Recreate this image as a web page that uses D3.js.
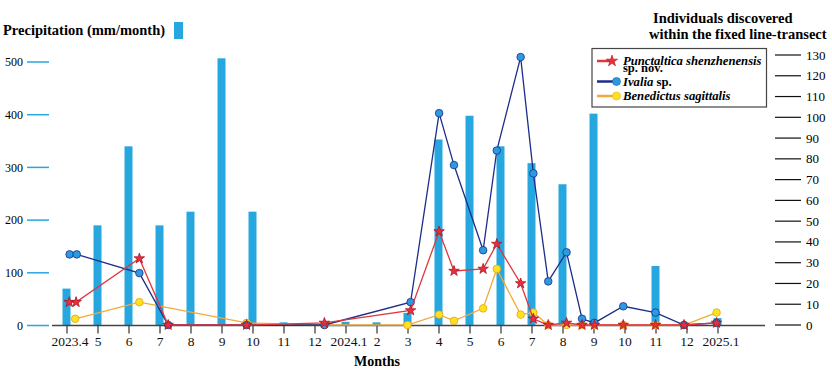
<!DOCTYPE html>
<html>
<head>
<meta charset="utf-8">
<script src="https://cdn.jsdelivr.net/npm/d3@7"></script>
<style>
  body { margin: 0; background: #fff; }
  svg text { font-family: "Liberation Serif", "Times New Roman", serif; }
</style>
</head>
<body>
<div id="chart"></div>
<script>
// month labels along the x axis (index 0 = 2023.4)
var monthLabels = ["2023.4","5","6","7","8","9","10","11","12","2024.1","2","3","4","5","6","7","8","9","10","11","12","2025.1"];
// precipitation per month, mm
var precipitation = [70,190,340,190,216,507,216,6,3,7,6,24,353,398,340,308,268,402,0,113,0,14];

// survey dates as month offsets from 2023.4, counts per survey
var punctalticaMonth = [0.09,0.31,2.35,3.28,5.81,8.32,11.1,12.02,12.5,13.44,13.88,14.65,15.06,15.54,16.13,16.63,17.03,17.96,19.0,19.92,20.97];
var punctaltica      = [11,11,32,0,0,1,7,45,26,27,39,20,3,0,1,0,0,0,0,0,1];
var ivaliaMonth      = [0.1,0.33,2.35,3.28,5.81,8.32,11.1,12.02,12.5,13.44,13.88,14.65,15.06,15.54,16.13,16.63,17.03,17.96,19.0,19.92,20.97];
var ivalia           = [34,34,25,0,0,0,11,102,77,36,84,129,73,21,35,3,1,9,6,0,1];
var benedictusMonth  = [0.28,2.35,5.81,8.32,11.0,12.02,12.5,13.44,13.88,14.65,15.06,15.54,16.13,16.63,17.03,17.96,19.0,19.92,20.97];
var benedictus       = [3,11,1,0,0,5,2,8,27,5,6,0,0,0,0,0,0,0,6];

var leftTicks = [0,100,200,300,400,500];
var rightTicks = d3.range(0, 131, 10);

var width = 832, height = 372;
var barColor = "#27a7df";

var svg = d3.select("#chart")
  .append("svg")
  .attr("width", width)
  .attr("height", height);

var x = d3.scaleLinear().domain([0, 21]).range([66.5, 717.5]);
var yLeft = d3.scaleLinear().domain([0, 500]).range([325.5, 62]);
var yRight = d3.scaleLinear().domain([0, 130]).range([325, 55]);

// precipitation bars
svg.selectAll("rect.bar")
  .data(precipitation)
  .enter()
  .append("rect")
  .attr("class", "bar")
  .attr("x", function(d, i) { return x(i) - 4; })
  .attr("y", function(d) { return yLeft(d); })
  .attr("width", 8)
  .attr("height", function(d) { return yLeft(0) - yLeft(d); })
  .style("fill", barColor);

// left axis: blue dashes with labels
var lAxis = svg.append("g");
lAxis.selectAll("line")
  .data(leftTicks)
  .enter()
  .append("line")
  .attr("x1", 27).attr("x2", 49)
  .attr("y1", function(d) { return yLeft(d); })
  .attr("y2", function(d) { return yLeft(d); })
  .style("stroke", barColor)
  .style("stroke-width", 1.5);
lAxis.selectAll("text")
  .data(leftTicks)
  .enter()
  .append("text")
  .attr("x", 23)
  .attr("y", function(d) { return yLeft(d); })
  .attr("dy", "0.35em")
  .attr("text-anchor", "end")
  .attr("font-size", 12)
  .text(function(d) { return d; });

// right axis
var rAxis = svg.append("g");
rAxis.selectAll("line")
  .data(rightTicks)
  .enter()
  .append("line")
  .attr("x1", 775).attr("x2", 801)
  .attr("y1", function(d) { return yRight(d); })
  .attr("y2", function(d) { return yRight(d); })
  .style("stroke", "#111")
  .style("stroke-width", 1.2);
rAxis.selectAll("text")
  .data(rightTicks)
  .enter()
  .append("text")
  .attr("x", 806)
  .attr("y", function(d) { return yRight(d); })
  .attr("dy", "0.35em")
  .attr("font-size", 13)
  .text(function(d) { return d; });

// bottom axis
var xAxis = d3.axisBottom(x)
  .tickValues(d3.range(0, 22))
  .tickSize(8)
  .tickPadding(3)
  .tickFormat(function(d) { return monthLabels[d]; });
var gx = svg.append("g")
  .attr("transform", "translate(0," + yLeft(0) + ")")
  .call(xAxis);
gx.select(".domain").remove();
gx.insert("line", ":first-child")
  .attr("x1", 52).attr("x2", 765)
  .style("stroke", "#444")
  .style("stroke-width", 1.5);
gx.selectAll(".tick line").style("stroke", "#333").style("stroke-width", 1.2);
gx.selectAll(".tick text")
  .attr("font-size", 13.5)
  .attr("font-family", "Liberation Serif")
  .style("fill", "#111")
  .attr("dx", function(d) { return monthLabels[d].length > 3 ? 3 : 0; });

svg.append("text")
  .attr("x", 377).attr("y", 366)
  .attr("text-anchor", "middle")
  .attr("font-size", 14)
  .attr("font-weight", "bold")
  .text("Months");

// series
function drawSeries(months, values, lineColor, fill, stroke, marker) {
  var pts = months.map(function(m, i) { return [m, values[i]]; });
  var line = d3.line()
    .x(function(d) { return x(d[0]); })
    .y(function(d) { return yRight(d[1]); });
  svg.append("path")
    .datum(pts)
    .attr("d", line)
    .style("fill", "none")
    .style("stroke", lineColor)
    .style("stroke-width", 1.3);
  if (marker == "star") {
    svg.selectAll(null)
      .data(pts)
      .enter()
      .append("path")
      .attr("d", d3.symbol().type(d3.symbolStar).size(34))
      .attr("transform", function(d) { return "translate(" + x(d[0]) + "," + yRight(d[1]) + ")"; })
      .style("fill", fill)
      .style("stroke", stroke)
      .style("stroke-width", 0.8);
  } else {
    svg.selectAll(null)
      .data(pts)
      .enter()
      .append("circle")
      .attr("cx", function(d) { return x(d[0]); })
      .attr("cy", function(d) { return yRight(d[1]); })
      .attr("r", 3.8)
      .style("fill", fill)
      .style("stroke", stroke)
      .style("stroke-width", 0.8);
  }
}
drawSeries(benedictusMonth, benedictus, "#f2a93b", "#ffe21f", "#e5a21a", "circle");
drawSeries(ivaliaMonth, ivalia, "#1d2e8a", "#2b9be0", "#1d2e8a", "circle");
drawSeries(punctalticaMonth, punctaltica, "#e0363c", "#e8303a", "#a8162a", "star");

// titles
svg.append("text")
  .attr("x", 3).attr("y", 35)
  .attr("font-size", 14.5)
  .attr("font-weight", "bold")
  .text("Precipitation (mm/month)");
svg.append("rect")
  .attr("x", 174).attr("y", 22)
  .attr("width", 9).attr("height", 17)
  .style("fill", barColor);

svg.append("text")
  .attr("x", 653).attr("y", 22.5)
  .attr("font-size", 14.5)
  .attr("font-weight", "bold")
  .text("Individuals discovered");
svg.append("text")
  .attr("x", 649).attr("y", 38.5)
  .attr("font-size", 14.5)
  .attr("font-weight", "bold")
  .text("within the fixed line-transect");

// legend
var lg = svg.append("g");
lg.append("rect")
  .attr("x", 592).attr("y", 48.5)
  .attr("width", 174.5).attr("height", 58.5)
  .style("fill", "#fff")
  .style("stroke", "#444")
  .style("stroke-width", 1.2);

lg.append("line").attr("x1", 597).attr("x2", 612).attr("y1", 61).attr("y2", 61)
  .style("stroke", "#e0363c").style("stroke-width", 2.5);
lg.append("path")
  .attr("d", d3.symbol().type(d3.symbolStar).size(40))
  .attr("transform", "translate(612,61)")
  .style("fill", "#e8303a").style("stroke", "#a8162a").style("stroke-width", 0.6);
lg.append("text").attr("x", 623).attr("y", 64.5)
  .attr("font-size", 12.7).attr("font-weight", "bold").attr("font-style", "italic")
  .text("Punctaltica shenzhenensis");
lg.append("text").attr("x", 623).attr("y", 72)
  .attr("font-size", 12.5).attr("font-weight", "bold")
  .text("sp. nov.");

lg.append("line").attr("x1", 597).attr("x2", 613).attr("y1", 81.5).attr("y2", 81.5)
  .style("stroke", "#1d2e8a").style("stroke-width", 2.5);
lg.append("circle").attr("cx", 616.5).attr("cy", 81.5).attr("r", 4)
  .style("fill", "#2b9be0").style("stroke", "#1d5fa8").style("stroke-width", 0.6);
var t2 = lg.append("text").attr("x", 623).attr("y", 85.5)
  .attr("font-size", 12.7).attr("font-weight", "bold");
t2.append("tspan").attr("font-style", "italic").text("Ivalia");
t2.append("tspan").text(" sp.");

lg.append("line").attr("x1", 597).attr("x2", 613).attr("y1", 96).attr("y2", 96)
  .style("stroke", "#f2a93b").style("stroke-width", 2.5);
lg.append("circle").attr("cx", 616.5).attr("cy", 96).attr("r", 4)
  .style("fill", "#ffe21f").style("stroke", "#e5b21a").style("stroke-width", 0.6);
lg.append("text").attr("x", 623).attr("y", 99.5)
  .attr("font-size", 12.7).attr("font-weight", "bold").attr("font-style", "italic")
  .text("Benedictus sagittalis");
</script>
</body>
</html>
